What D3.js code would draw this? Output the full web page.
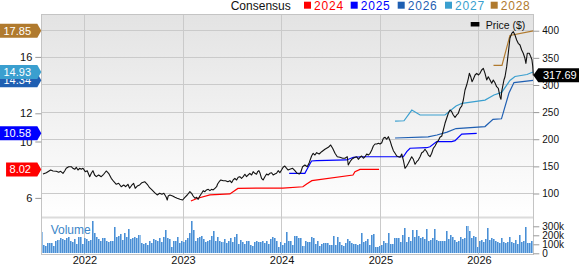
<!DOCTYPE html>
<html><head><meta charset="utf-8">
<script src="https://cdn.jsdelivr.net/npm/d3@7"></script>
<style>
html,body{margin:0;padding:0;background:#fff;}
svg{display:block;font-family:"Liberation Sans",Arial,sans-serif;}
</style></head><body>
<svg id="c" width="579" height="264"></svg>
<script>
// ---------- DATA ----------
const priceYears = [2021.579,2021.613,2021.657,2021.681,2021.714,2021.738,2021.759,2021.782,2021.799,2021.815,
2021.840,2021.866,2021.883,2021.901,2021.917,2021.934,2021.951,2021.968,2021.985,2022.008,
2022.028,2022.053,2022.069,2022.086,2022.103,2022.120,2022.144,2022.170,2022.195,2022.221,
2022.245,2022.272,2022.299,2022.323,2022.347,2022.373,2022.398,2022.418,2022.441,2022.458,
2022.482,2022.499,2022.515,2022.536,2022.560,2022.583,2022.611,2022.637,2022.661,2022.685,
2022.712,2022.738,2022.763,2022.786,2022.806,2022.830,2022.840,2022.850,2022.867,2022.895,
2022.918,2022.941,2022.969,2022.996,2023.019,2023.043,2023.070,2023.087,2023.103,2023.121,
2023.138,2023.154,2023.171,2023.189,2023.205,2023.222,2023.239,2023.256,2023.273,2023.290,
2023.306,2023.324,2023.341,2023.351,2023.367,2023.384,2023.408,2023.432,2023.455,2023.476,
2023.493,2023.509,2023.526,2023.544,2023.560,2023.577,2023.594,2023.611,2023.628,2023.645,
2023.661,2023.678,2023.696,2023.712,2023.729,2023.746,2023.757,2023.770,2023.780,2023.797,
2023.813,2023.831,2023.848,2023.864,2023.881,2023.899,2023.915,2023.932,2023.949,2023.966,
2023.983,2024.000,2024.016,2024.033,2024.051,2024.067,2024.084,2024.112,2024.135,2024.158,
2024.179,2024.193,2024.213,2024.236,2024.260,2024.280,2024.304,2024.320,2024.338,2024.355,
2024.381,2024.406,2024.439,2024.473,2024.497,2024.517,2024.541,2024.564,2024.591,2024.619,
2024.642,2024.665,2024.675,2024.693,2024.710,2024.726,2024.743,2024.761,2024.777,2024.794,
2024.811,2024.828,2024.845,2024.862,2024.878,2024.896,2024.913,2024.929,2024.946,2024.964,
2024.980,2024.997,2025.014,2025.030,2025.048,2025.065,2025.081,2025.098,2025.115,2025.132,
2025.149,2025.166,2025.183,2025.200,2025.217,2025.233,2025.250,2025.268,2025.284,2025.301,
2025.318,2025.335,2025.352,2025.369,2025.385,2025.403,2025.420,2025.436,2025.453,2025.471,
2025.487,2025.504,2025.521,2025.537,2025.555,2025.572,2025.588,2025.605,2025.623,2025.639,
2025.656,2025.673,2025.690,2025.707,2025.724,2025.740,2025.758,2025.775,2025.791,2025.808,
2025.826,2025.842,2025.859,2025.876,2025.893,2025.903,2025.917,2025.930,2025.943,2025.961,
2025.978,2025.994,2026.011,2026.028,2026.045,2026.062,2026.079,2026.095,2026.113,2026.130,
2026.146,2026.163,2026.180,2026.197,2026.214,2026.224,2026.231,2026.241,2026.254,2026.265,
2026.282,2026.298,2026.315,2026.333,2026.349,2026.366,2026.383,2026.399,2026.417,2026.434,
2026.450,2026.467,2026.477,2026.491,2026.511,2026.525,2026.538,2026.546,2026.552];

const priceValues = [135.9,138.3,143.3,141.5,140.9,139.1,140.9,137.2,141.5,146.4,
149.4,149.4,146.4,144.6,148.3,143.3,146.4,144.6,146.4,140.2,
142.0,131.0,137.2,142.0,134.1,131.0,134.1,131.0,135.4,141.5,
137.2,128.0,121.7,117.0,118.8,112.5,115.7,112.5,117.0,109.6,
115.7,118.8,109.6,113.8,115.7,119.9,121.7,117.0,110.7,106.5,
101.5,97.3,100.4,98.5,100.4,93.0,88.0,95.4,97.2,95.4,
93.0,91.2,89.3,88.0,93.0,97.2,103.3,100.4,95.4,91.2,
93.0,89.3,95.4,100.4,105.2,103.3,106.5,107.7,105.2,107.7,
106.5,109.6,112.5,117.5,121.7,124.9,123.6,123.6,121.7,123.6,
119.9,124.9,128.0,124.9,129.9,131.0,128.0,131.0,135.4,131.0,
134.1,137.2,134.1,140.2,137.2,135.4,140.2,142.0,138.3,128.0,
124.9,131.0,135.9,134.1,137.2,138.3,134.1,135.9,137.2,142.0,
138.3,143.3,148.3,150.7,146.4,143.3,144.6,146.4,142.0,137.2,
135.9,138.3,149.4,152.5,149.4,156.8,169.1,174.1,170.9,175.2,
172.8,177.0,181.5,185.1,189.4,183.3,174.1,167.8,166.7,164.9,
164.9,167.8,152.5,158.6,163.0,164.9,166.7,167.8,163.0,166.7,
169.1,164.9,167.8,172.8,170.9,174.1,180.2,187.5,191.2,191.2,
192.5,191.2,193.6,201.7,203.6,199.9,204.7,197.3,187.5,178.9,
174.1,169.1,167.8,166.7,172.8,161.7,146.4,150.7,155.7,161.7,
167.8,163.0,153.8,158.6,161.7,167.8,175.2,177.0,181.5,177.0,
170.9,167.8,174.1,183.3,187.5,193.6,197.3,203.6,205.9,217.0,
229.4,238.6,247.8,253.9,250.8,244.7,240.4,244.7,247.8,257.0,
261.2,272.3,290.7,299.9,312.3,321.5,315.2,306.0,310.4,318.4,
321.5,318.4,321.5,327.6,330.7,321.5,309.2,315.2,309.2,303.1,
309.2,304.2,296.8,293.9,278.4,273.6,287.6,296.8,309.2,315.2,
333.7,358.4,386.0,395.2,398.2,392.1,382.9,376.8,373.7,364.4,
358.4,349.2,339.9,358.4,358.4,352.7,346.6,335.0,317.69];

const consensusNames  = ["2024","2025","2026","2027","2028"];
const consensusColors = ["#ff0000","#0000ff","#1f5fb2","#3a9fcf","#b07a2e"];

const eps2024Years  = [2023.080,2023.141,2023.273,2023.476,2023.557,2023.780,2024.013,2024.216,2024.254,2024.307,2024.723,2024.743,2024.794,2024.987];
const eps2024Values = [5.78,5.96,6.21,6.28,6.67,6.70,6.70,6.79,6.99,7.22,7.62,7.86,8.02,8.02];

const eps2025Years  = [2024.077,2024.236,2024.254,2024.287,2024.304,2024.355,2024.659,2024.726,2024.811,2025.233,2025.268,2025.301,2025.470,2025.504,2025.572,2025.724,2025.758,2025.826,2025.978];
const eps2025Values = [7.74,7.74,7.98,8.40,8.62,8.64,8.69,8.88,8.92,8.92,9.28,9.52,9.56,9.63,9.99,9.99,10.06,10.53,10.58];

const eps2026Years  = [2025.149,2025.484,2025.575,2025.677,2025.768,2026.062,2026.143,2026.229,2026.305,2026.356,2026.549];
const eps2026Values = [10.25,10.33,10.46,10.67,10.92,11.06,11.57,11.61,13.44,14.18,14.34];

const eps2027Years  = [2025.149,2025.240,2025.319,2025.403,2025.656,2025.768,2025.829,2026.062,2026.153,2026.231,2026.315,2026.366,2026.488,2026.549];
const eps2027Values = [11.45,11.47,12.23,11.88,11.88,12.52,12.71,12.94,13.30,13.48,14.33,14.61,14.75,14.93];

const eps2028Years  = [2026.148,2026.234,2026.315,2026.552];
const eps2028Values = [15.40,15.40,17.52,17.85];

// weekly volume, thousands of shares
const volumeK = [233,96,85,111,111,118,85,140,148,170,155,148,170,177,140,122,159,103,177,185,103,
170,159,140,148,362,222,177,159,140,170,170,140,122,140,133,296,185,196,214,148,222,185,270,159,170,185,170,207,111,103,111,96,140,111,159,148,140,170,122,177,259,170,159,66,133,133,177,111,133,
122,148,170,222,355,259,140,170,177,196,159,122,133,148,196,251,140,185,140,122,159,111,140,170,122,185,214,103,148,122,103,133,140,96,85,122,133,122,122,133,111,140,103,159,177,170,140,66,122,96,111,
233,133,133,96,196,196,170,170,85,133,122,122,185,170,103,140,85,103,111,111,111,96,96,196,96,177,122,96,85,111,159,140,111,103,103,96,103,222,122,133,159,96,207,214,66,66,
85,96,133,111,222,103,103,170,170,170,122,207,281,122,177,140,259,177,259,196,170,177,159,270,140,148,170,270,148,133,140,133,140,244,159,207,177,148,122,140,177,159,170,307,244,170,196,185,74,133,148,122,159,281,148,170,159,140,122,111,170,122,111,122,185,122,111,148,103,207,122,133,288,111,111,140];

const priceTicks  = [100,150,200,250,300,350,400];
const epsTicks    = [6,10,12,16];
const volumeTicks = [0,100,200,300];
const yearTicks   = [2022,2023,2024,2025,2026];
const lastPrice   = 317.69;

// ---------- LAYOUT ----------
const L = 41.3, R = 533.3, T = 14, MB = 216.5, VT = 218.5, VB = 253.3, B = 254;

function toDate(y){ const yr=Math.floor(y); const s=Date.UTC(yr,0,1), e=Date.UTC(yr+1,0,1); return new Date(s+(y-yr)*(e-s)); }

const x = d3.scaleUtc().domain([toDate(2021.562), toDate(2026.552)]).range([L, R]);
const yP = d3.scaleLinear().domain([57.6, 430.8]).range([MB, T]);
const yE = d3.scaleLinear().domain([4.681, 19.043]).range([MB, T]);
const yV = d3.scaleLinear().domain([0, 386.7]).range([VB, VT]);
const xb = d3.scaleBand().domain(d3.range(volumeK.length)).range([L, R]).paddingInner(0);

const svg = d3.select("#c");
const defs = svg.append("defs");
const g1 = defs.append("linearGradient").attr("id","bg").attr("x1",0).attr("y1",0).attr("x2",0).attr("y2",1);
g1.append("stop").attr("offset","0%").attr("stop-color","#e3e3e3");
g1.append("stop").attr("offset","100%").attr("stop-color","#ffffff");

// backgrounds
svg.append("rect").attr("x",L).attr("y",T).attr("width",R-L).attr("height",MB-T).attr("fill","url(#bg)");
svg.append("rect").attr("x",L).attr("y",VT).attr("width",R-L).attr("height",B-VT).attr("fill","#fff");
svg.append("rect").attr("x",L).attr("y",MB).attr("width",R-L).attr("height",VT-MB).attr("fill","#dcdcdc");

// grid
const grid = svg.append("g").attr("stroke","#cacaca").attr("stroke-width",1).attr("shape-rendering","crispEdges");
grid.selectAll("line.h").data(priceTicks).join("line").attr("class","h")
  .attr("x1",L).attr("x2",R).attr("y1",d=>yP(d)).attr("y2",d=>yP(d));
grid.selectAll("line.v").data(yearTicks).join("line").attr("class","v")
  .attr("x1",d=>x(toDate(d))).attr("x2",d=>x(toDate(d))).attr("y1",T).attr("y2",B);

// volume bars
const vb = svg.append("g").attr("shape-rendering","crispEdges");
vb.selectAll("rect.l").data(volumeK).join("rect").attr("class","l")
  .attr("x",(d,i)=>xb(i)).attr("width",xb.bandwidth()).attr("y",d=>yV(d)).attr("height",d=>VB-yV(d)).attr("fill","#94c0ea");
vb.selectAll("rect.d").data(volumeK).join("rect").attr("class","d")
  .attr("x",(d,i)=>xb(i)).attr("width",1).attr("y",d=>yV(d)).attr("height",d=>VB-yV(d)).attr("fill","#4a8ed4");

svg.append("text").attr("x",50.7).attr("y",233.6).attr("font-size",12).attr("fill","#3a86c8").text("Volume");

// plot border
svg.append("rect").attr("x",L).attr("y",T).attr("width",R-L).attr("height",B-T)
  .attr("fill","none").attr("stroke","#c4c4c4").attr("shape-rendering","crispEdges");

// consensus lines
const epsSeries = [
  [eps2024Years, eps2024Values],
  [eps2025Years, eps2025Values],
  [eps2026Years, eps2026Values],
  [eps2027Years, eps2027Values],
  [eps2028Years, eps2028Values]
];
const epsLine = d3.line().x(d=>x(toDate(d[0]))).y(d=>yE(d[1]));
epsSeries.forEach((s,i)=>{
  const pts = d3.zip(s[0], s[1]);
  svg.append("path").datum(pts).attr("d",epsLine).attr("fill","none")
    .attr("stroke",consensusColors[i]).attr("stroke-width",1.2);
});

// price line
const pricePts = d3.zip(priceYears, priceValues);
svg.append("path").datum(pricePts)
  .attr("d", d3.line().x(d=>x(toDate(d[0]))).y(d=>yP(d[1])))
  .attr("fill","none").attr("stroke","#111").attr("stroke-width",1.1).attr("stroke-linejoin","round");

// axes
const axStyle = sel => {
  sel.select(".domain").remove();
  sel.selectAll(".tick line").attr("stroke","#999");
  sel.selectAll(".tick text").attr("fill","#111").attr("font-family","Liberation Sans, Arial, sans-serif");
};
svg.append("g").attr("transform",`translate(${R},0)`)
  .call(d3.axisRight(yP).tickValues(priceTicks).tickSize(6).tickPadding(3))
  .call(axStyle).selectAll("text").attr("font-size",10);
svg.append("g").attr("transform",`translate(${R},0)`)
  .call(d3.axisRight(yV).tickValues(volumeTicks).tickSize(6).tickPadding(3).tickFormat(d=>d===0?"0":d+"k"))
  .call(axStyle).selectAll("text").attr("font-size",10);
svg.append("g").attr("transform",`translate(${L},0)`)
  .call(d3.axisLeft(yE).tickValues(epsTicks).tickSize(6).tickPadding(3))
  .call(axStyle).selectAll("text").attr("font-size",11);
const xa = svg.append("g").attr("transform",`translate(0,${B})`)
  .call(d3.axisBottom(x).tickValues(yearTicks.map(toDate)).tickSize(0).tickPadding(0).tickFormat(d3.utcFormat("%Y")))
  .call(axStyle);
xa.selectAll("text").attr("font-size",11).attr("dy",null).attr("y",9.5);

// left badges (last consensus values)
epsSeries.forEach((s,i)=>{
  const v = s[1][s[1].length-1];
  const cy = yE(v);
  const g = svg.append("g");
  const t = g.append("text").attr("x",31).attr("y",cy+4).attr("text-anchor","end")
    .attr("font-size",11).attr("fill","#fff").text(v.toFixed(2));
  const w = t.node().getComputedTextLength();
  const lx = 31 - w - 3.5;
  g.insert("path","text").attr("d",`M${lx},${cy-7}H${L-4}L${L},${cy}L${L-4},${cy+7}H${lx}Z`)
    .attr("fill",consensusColors[i]);
});

// right price badge
{
  const cy = yP(lastPrice);
  svg.append("path").attr("d",`M${R},${cy}L${R+5},${cy-7}H579V${cy+7}H${R+5}Z`).attr("fill","#000");
  svg.append("text").attr("x",543).attr("y",cy+4).attr("font-size",11).attr("fill","#fff").text(lastPrice.toFixed(2));
}

// top legend
svg.append("text").attr("x",230.7).attr("y",9.6).attr("font-size",12).attr("fill","#111").text("Consensus");
const legX = [304, 350.7, 397.7, 445, 490.7];
consensusNames.forEach((n,i)=>{
  svg.append("rect").attr("x",legX[i]).attr("y",1.7).attr("width",7).attr("height",7).attr("fill",consensusColors[i]);
  svg.append("text").attr("x",legX[i]+10).attr("y",9.6).attr("font-size",12).attr("letter-spacing",0.8)
    .attr("fill",consensusColors[i]).text(n);
});

// price legend
svg.append("rect").attr("x",470.7).attr("y",22).attr("width",8.7).attr("height",4.5).attr("fill","#000");
svg.append("text").attr("x",485.7).attr("y",29.2).attr("font-size",10.5).attr("fill","#111").text("Price ($)");
</script>
</body></html>
